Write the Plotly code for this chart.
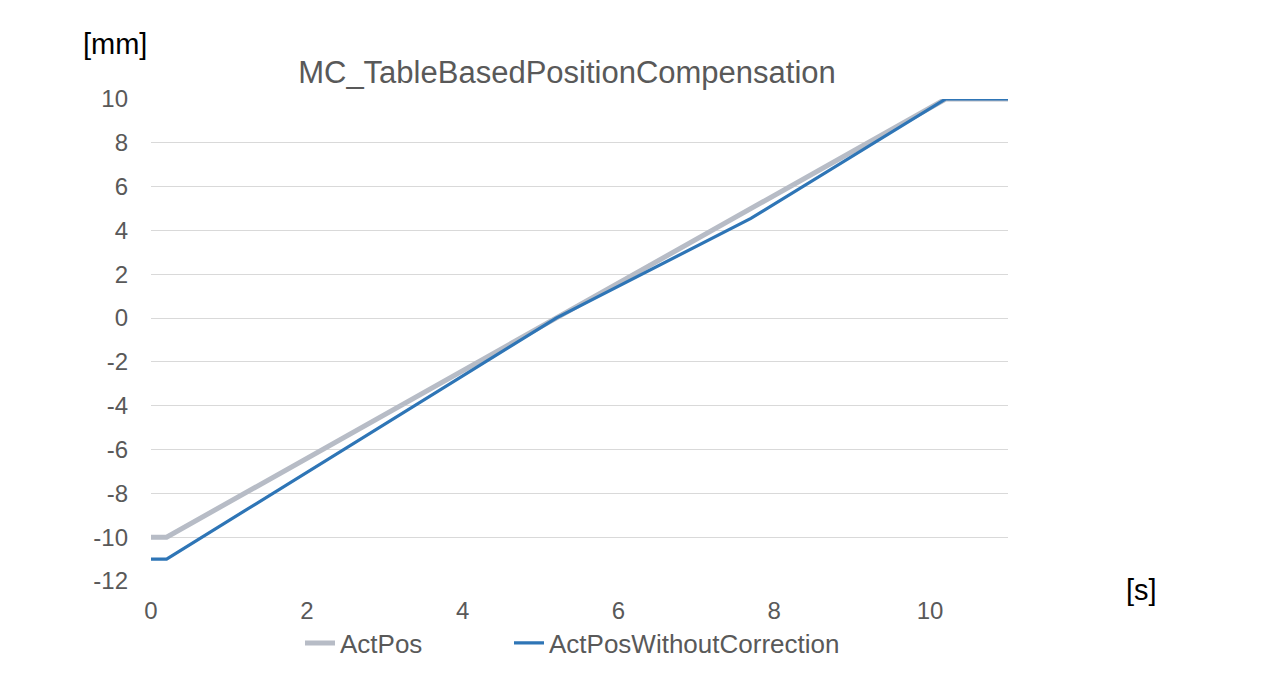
import plotly.graph_objects as go

# Data
time_act = [0, 0.2, 10.2, 11]
act_pos = [-10, -10, 10, 10]
time_raw = [0, 0.2, 5.2, 7.7, 10.2, 11]
act_pos_raw = [-11, -11, 0, 4.55, 10, 10]
x_ticks = [0, 2, 4, 6, 8, 10]
y_ticks = [-12, -10, -8, -6, -4, -2, 0, 2, 4, 6, 8, 10]
y_tick_labels = [str(v) for v in y_ticks]  # hyphen-minus as in reference

# page body has an 8px margin; positions below are in figure pixels
OFF = 8
W, H = 1280 - 2 * OFF, 693 - 2 * OFF
L, R, T, B = 151 - OFF, 1008 - OFF, 99 - OFF, 581 - OFF
PW, PH = R - L, B - T

def px(x):
    return (x - OFF - L) / PW

def py(y):
    return (B - (y - OFF)) / PH

fig = go.Figure()
fig.add_trace(go.Scatter(x=time_act, y=act_pos, mode="lines", name="ActPos",
                         line=dict(color="#b7bcc6", width=5), legend="legend"))
fig.add_trace(go.Scatter(x=time_raw, y=act_pos_raw, mode="lines", name="ActPosWithoutCorrection",
                         line=dict(color="#2e75b6", width=3.2), legend="legend2"))

leg_common = dict(orientation="h", xanchor="left", yanchor="middle",
                  font=dict(size=26, color="#595959"), itemwidth=30,
                  bgcolor="rgba(0,0,0,0)")

fig.update_layout(
    width=W, height=H,
    paper_bgcolor="white", plot_bgcolor="white",
    font=dict(family="Liberation Sans, Arial", size=24, color="#595959"),
    margin=dict(l=L, r=W - R, t=T, b=H - B),
    title=dict(text="MC_TableBasedPositionCompensation", x=(567 - OFF) / W, xanchor="center",
               y=1 - (72 - OFF) / H, yanchor="middle", font=dict(size=31, color="#595959")),
    xaxis=dict(range=[0, 11], tickvals=x_ticks, showgrid=False, zeroline=False,
               showline=False, ticks="", automargin=False, ticklabelstandoff=13,
               tickfont=dict(size=24, color="#595959")),
    yaxis=dict(range=[-12, 10], tickvals=y_ticks, ticktext=y_tick_labels,
               showgrid=True, gridcolor="#d9d9d9",
               gridwidth=1.3, zeroline=False, showline=False, ticks="",
               ticklabelstandoff=22, automargin=False,
               tickfont=dict(size=24, color="#595959")),
    legend=dict(x=px(300), y=py(643), **leg_common),
    legend2=dict(x=px(509), y=py(643), **leg_common),
    showlegend=True,
)
fig.add_annotation(text="[mm]", xref="paper", yref="paper", x=px(115), y=py(44),
                   xanchor="center", yanchor="middle", showarrow=False,
                   font=dict(size=29, color="black"))
fig.add_annotation(text="[s]", xref="paper", yref="paper", x=px(1141), y=py(590),
                   xanchor="center", yanchor="middle", showarrow=False,
                   font=dict(size=29, color="black"))
fig.write_html("out.html")
